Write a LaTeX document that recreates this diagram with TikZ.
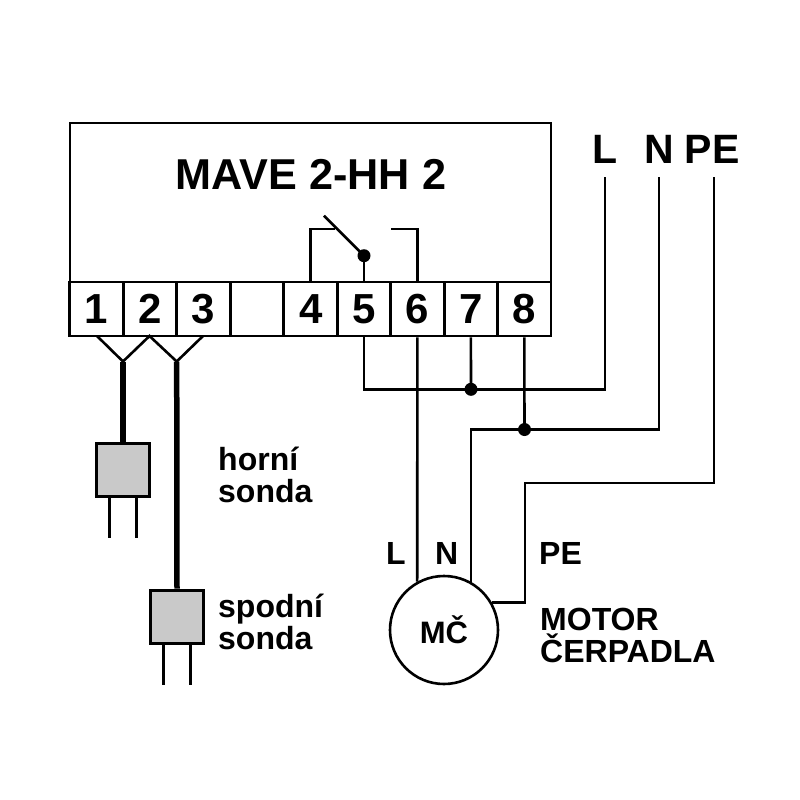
\documentclass[tikz,border=0pt]{standalone}
\usepackage{fontspec}
\setmainfont{Liberation Sans}
\usetikzlibrary{calc, positioning}
\tikzset{
    wire/.style = {line width=2.6pt, line join=miter},
    cable/.style = {line width=5.5pt},
    pin/.style = {line width=2.6pt},
    terminal/.style = {draw, line width=2.8pt, minimum width=53.4pt, minimum height=54pt, inner sep=0pt, font=\fontsize{42}{42}\selectfont\bfseries},
    probe/.style = {draw, line width=3pt, fill=black!21, minimum size=53pt, inner sep=0pt},
    joint/.style = {circle, fill=black, minimum size=13pt, inner sep=0pt},
    caption/.style = {anchor=base west, inner sep=0pt, font=\fontsize{32}{32}\selectfont\bfseries},
    mains/.style = {anchor=base, inner sep=0pt, font=\fontsize{41}{41}\selectfont\bfseries}
}
\begin{document}
\begin{tikzpicture}[x=1pt, y=-1pt]
    \useasboundingbox (0,0) rectangle (800,800);
    \node[draw, line width=2.8pt, minimum width=481pt, minimum height=213pt, inner sep=0pt] (mave) at (310.5,229.5) {};
    \node[anchor=base, inner sep=0pt, font=\fontsize{43.2}{43.2}\selectfont\bfseries] (title) at (311,189) {MAVE 2-HH 2};
    \foreach \n/\x/\t in {T1/96.4/1, T2/149.8/2, T3/203.2/3, T0/257/, T4/310.7/4, T5/364/5, T6/417.4/6, T7/470.9/7, T8/524.3/8}{
        \node[terminal] (\n) at (\x,309) {\t};
    }
    \node[mains] (labL) at (605,163) {L};
    \node[mains] (labN) at (659,163) {N};
    \node[mains] (labPE) at (712,163) {PE};
    \coordinate (supL) at (605,177);
    \coordinate (supN) at (659,177);
    \coordinate (supPE) at (714,177);
    \coordinate (bendPE) at (525,483);
    \coordinate (fork1) at (123,361.5);
    \coordinate (fork2) at (176.7,361.5);
    \node[probe] (upper) at (123,470) {};
    \node[probe] (lower) at (177,616.5) {};
    \node[draw, circle, line width=2.6pt, fill=white, minimum size=108pt, inner sep=0pt, font=\fontsize{31}{31}\selectfont\bfseries] (motor) at (444,630) {MČ};
    \node[joint] (J7) at (471,389.3) {};
    \node[joint] (J8) at (524.5,429.5) {};
    \node[joint] (pivot) at (364,255.7) {};
    % relay
    \coordinate (armL) at (335,229);
    \coordinate (armR) at (391,229);
    \coordinate (lever) at (324,215.7);
    \draw[wire] (T4.north) |- (armL);
    \draw[wire] (lever) -- (pivot.center);
    \draw[wire] (pivot.center) -- (T5.north);
    \draw[wire] (armR) -| (T6.north);
    % probes
    \draw[wire] (97,336) -- (fork1) -- (149.5,336) -- (fork2) -- (203,336);
    \draw[cable] (fork1) -- (upper.north);
    \draw[cable] (fork2) -- (lower.north);
    \foreach \s in {upper, lower}{
        \draw[pin] ($(\s.south)+(-13.3,0)$) -- ++(0,40);
        \draw[pin] ($(\s.south)+(13.3,0)$) -- ++(0,40);
    }
    % mains and motor
    \draw[wire] (T5.south) |- (J7.center) -| (supL);
    \draw[wire] (T7.south) -- (J7.center);
    \draw[wire] (T8.south) -- (J8.center);
    \draw[wire] (T6.south) -- (motor.119);
    \draw[wire] (motor.61) -- (motor.61 |- J8) -- (J8.center) -| (supN);
    \draw[wire] (supPE) |- (bendPE) |- (motor.30);
    \node[caption] (top1) at (218,470) {horní};
    \node[caption] (top2) at (218,502) {sonda};
    \node[caption] (low1) at (218,617) {spodní};
    \node[caption] (low2) at (218,649) {sonda};
    \node[caption] (wL) at (386,564) {L};
    \node[caption] (wN) at (435,564) {N};
    \node[caption] (wPE) at (539,564) {PE};
    \node[caption] (mot1) at (540,630) {MOTOR};
    \node[caption] (mot2) at (540,662) {ČERPADLA};
\end{tikzpicture}
\end{document}
